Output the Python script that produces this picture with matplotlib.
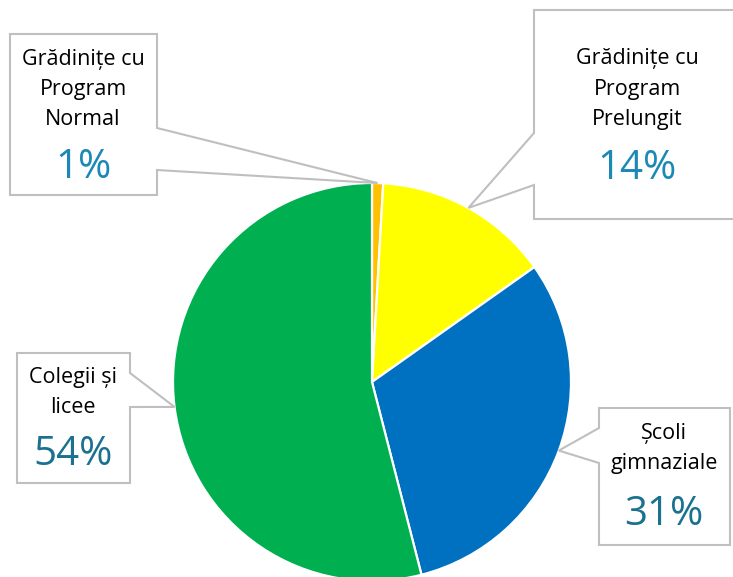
import numpy as np
import matplotlib
matplotlib.use('Agg')
import matplotlib.pyplot as plt
from matplotlib.patches import Polygon

# data
labels = ['Grădinițe cu\nProgram\nNormal', 'Grădinițe cu\nProgram\nPrelungit',
          'Școli\ngimnaziale', 'Colegii și\nlicee']
values = [0.9, 14.3, 30.8, 54.0]
pct_text = ['1%', '14%', '31%', '54%']
colors = ['#FFC000', '#FFFF00', '#0070C0', '#00B050']
pct_colors = ['#1C88B5', '#1C88B5', '#1B7190', '#1B7190']

W, H = 733, 577
fig = plt.figure(figsize=(W / 100, H / 100), dpi=100)
ax = fig.add_axes([0, 0, 1, 1])

cx, cy, r = 372, H - 382, 199
wedges, _ = ax.pie(values, colors=colors, startangle=90, counterclock=False,
                   center=(cx, cy), radius=r, frame=True,
                   wedgeprops=dict(edgecolor='white', linewidth=1.6))
ax.set_xlim(0, W)
ax.set_ylim(0, H)
ax.set_aspect('equal')
ax.axis('off')

# callout boxes (image pixel coords, y down): rect, side of pointer, pointer base
boxes = [
    dict(rect=(10, 34, 157, 195), side='right', base=(128, 170), text_y=(89.5, 168), cxt=83),
    dict(rect=(534, 10, 745, 219), side='left', base=(133, 185), text_y=(89, 169), cxt=637),
    dict(rect=(599, 408, 730, 545), side='left', base=(428, 463), text_y=(448.5, 515), cxt=664),
    dict(rect=(17, 353, 130, 483), side='right', base=(373, 407), text_y=(392.5, 455), cxt=73),
]

font = 'Open Sans'
for i, (w, b) in enumerate(zip(wedges, boxes)):
    # pointer tip sits on the rim at the wedge's middle angle
    mid = np.deg2rad((w.theta1 + w.theta2) / 2)
    tx, ty = cx + r * np.cos(mid), cy + r * np.sin(mid)
    x0, y0, x1, y1 = b['rect']
    ya, yb = b['base']
    if b['side'] == 'right':
        pts = [(x0, y0), (x1, y0), (x1, ya), None, (x1, yb), (x1, y1), (x0, y1)]
    else:
        pts = [(x0, y0), (x1, y0), (x1, y1), (x0, y1), (x0, yb), None, (x0, ya)]
    poly = []
    for p in pts:
        if p is None:
            poly.append((tx, ty))
        else:
            poly.append((p[0], H - p[1]))
    ax.add_patch(Polygon(poly, closed=True, facecolor='white', edgecolor='#BFBFBF',
                         linewidth=1.5, zorder=3))
    t1, t2 = b['text_y']
    ax.text(b['cxt'], H - t1, labels[i], ha='center', va='center', fontsize=15.5,
            family=font, color='#000000', linespacing=1.58, zorder=4)
    ax.text(b['cxt'], H - t2, pct_text[i], ha='center', va='center', fontsize=29,
            family=font, color=pct_colors[i], zorder=4)

fig.savefig('out.png', dpi=100, facecolor='white')
